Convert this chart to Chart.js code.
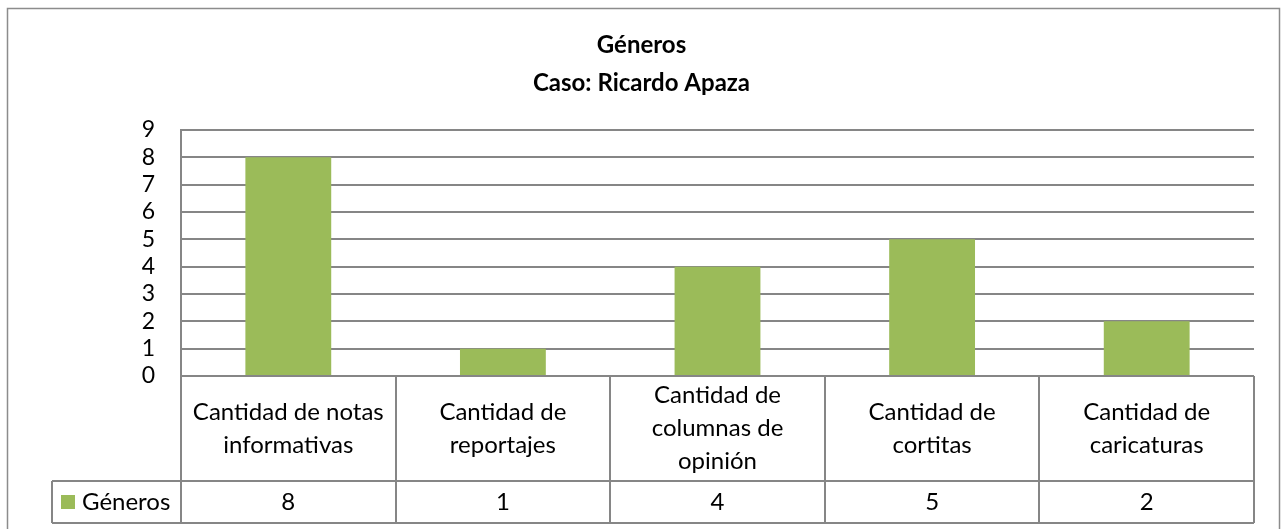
<!DOCTYPE html>
<html>
<head>
<meta charset="utf-8">
<script src="https://cdn.jsdelivr.net/npm/chart.js@4.4.0/dist/chart.umd.min.js"></script>
<style>
  html, body { margin: 0; padding: 0; background: #fff; }
  #wrap { width: 1283px; height: 529px; }
</style>
</head>
<body>
<div id="wrap"><canvas id="chart" width="1283" height="529"></canvas></div>
<script>
// data
const categories = [
  ['Cantidad de notas', 'informativas'],
  ['Cantidad de', 'reportajes'],
  ['Cantidad de', 'columnas de', 'opinión'],
  ['Cantidad de', 'cortitas'],
  ['Cantidad de', 'caricaturas']
];
const values = [8, 1, 4, 5, 2];
const seriesName = 'Géneros';
const titleLines = ['Géneros', 'Caso: Ricardo Apaza'];
const yMax = 9;

const FONT = 'Lato';
const GREEN = '#9bbb59';
const LINE = '#868686';

// draws the data table under the plot + outer frame
const dataTable = {
  id: 'dataTable',
  afterDraw(chart) {
    const ctx = chart.ctx;
    const area = chart.chartArea;
    const x = chart.scales.x;
    const n = categories.length;
    const top = area.bottom;
    const mid = top + 105;
    const bot = mid + 42;
    const legLeft = 52;
    const colW = (x.right - x.left) / n;

    ctx.save();
    ctx.strokeStyle = LINE;
    ctx.lineWidth = 2;
    ctx.beginPath();
    for (let i = 0; i <= n; i++) {
      const ex = Math.round(x.left + i * colW);
      ctx.moveTo(ex, top);
      ctx.lineTo(ex, bot);
    }
    ctx.moveTo(legLeft, mid); ctx.lineTo(x.right, mid);
    ctx.moveTo(legLeft, bot); ctx.lineTo(x.right, bot);
    ctx.moveTo(legLeft, mid); ctx.lineTo(legLeft, bot);
    ctx.stroke();

    ctx.fillStyle = '#000';
    ctx.font = '24px ' + FONT;
    ctx.textAlign = 'center';
    ctx.textBaseline = 'middle';
    const lh = 33;
    categories.forEach((lines, i) => {
      const cx = x.getPixelForValue(i);
      const cy = (top + mid) / 2;
      const y0 = cy - (lines.length - 1) * lh / 2;
      lines.forEach((t, j) => ctx.fillText(t, cx, y0 + j * lh));
      ctx.fillText(String(values[i]), cx, (mid + bot) / 2);
    });

    // legend key
    ctx.fillStyle = GREEN;
    ctx.fillRect(61, (mid + bot) / 2 - 7, 14, 14);
    ctx.fillStyle = '#000';
    ctx.textAlign = 'left';
    ctx.fillText(seriesName, 82, (mid + bot) / 2);

    // outer frame
    ctx.strokeStyle = '#8c8c8c';
    ctx.lineWidth = 1.5;
    ctx.strokeRect(7.5, 8.5, 1272, 600);
    ctx.restore();
  }
};

new Chart(document.getElementById('chart'), {
  type: 'bar',
  data: {
    labels: categories,
    datasets: [{
      label: seriesName,
      data: values,
      backgroundColor: GREEN,
      barPercentage: 0.4,
      categoryPercentage: 1.0
    }]
  },
  options: {
    responsive: false,
    animation: false,
    layout: { padding: { left: 0, right: 0, bottom: 153, top: 0 } },
    plugins: {
      legend: { display: false },
      tooltip: { enabled: false },
      title: {
        display: true,
        text: titleLines,
        color: '#000',
        font: { family: FONT, size: 24, weight: 'bold', lineHeight: 38 / 24 },
        padding: { top: 26, bottom: 28 }
      }
    },
    scales: {
      x: {
        ticks: { display: false },
        grid: { display: false },
        border: { display: false },
        afterFit: s => { s.height = 0; }
      },
      y: {
        min: 0,
        max: yMax,
        ticks: { stepSize: 1, autoSkip: false, color: '#000', padding: 26, font: { family: FONT, size: 23 } },
        grid: { color: LINE, lineWidth: 2, drawTicks: false },
        border: { color: LINE, width: 2 },
        afterFit: s => { s.width = 181; }
      },
      yRight: {
        position: 'right',
        ticks: { display: false },
        grid: { display: false },
        border: { display: false },
        afterFit: s => { s.width = 29; }
      }
    }
  },
  plugins: [dataTable]
});
</script>
</body>
</html>
